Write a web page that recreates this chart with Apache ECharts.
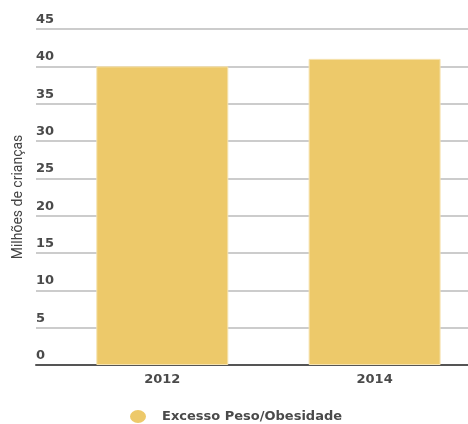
<!DOCTYPE html>
<html>
<head>
<meta charset="utf-8">
<script src="https://cdn.jsdelivr.net/npm/echarts@6/dist/echarts.min.js"></script>
<style>
  html, body { margin: 0; padding: 0; background: #fff; }
  #chart { width: 468px; height: 424px; }
</style>
</head>
<body>
<div id="chart"></div>
<script>
const years = [2012, 2014];
const values = [40, 41];
const seriesName = 'Excesso Peso/Obesidade';
const yTitle = 'Milhões de crianças';

const chart = echarts.init(document.getElementById('chart'));

const boldFont = 'DejaVu Sans';

let option = {
  animation: false,
  color: ['#EDC96A'],
  textStyle: { fontFamily: 'Roboto' },
  grid: {
    left: 36,
    right: 0,
    top: 29,
    bottom: 59
  },
  legend: {
    data: [seriesName],
    left: 125,
    top: 405,
    icon: 'path://M0,6a7.5,6 0 1,0 15,0a7.5,6 0 1,0 -15,0',
    itemWidth: 16,
    itemHeight: 13,
    itemGap: 10,
    itemStyle: { borderWidth: 0 },
    textStyle: {
      color: '#4a4a4a',
      fontFamily: boldFont,
      fontSize: 13,
      fontWeight: 'bold',
      padding: [0, 0, 0, 11]
    }
  },
  xAxis: {
    type: 'value',
    min: 2010.81,
    max: 2014.88,
    splitLine: { show: false },
    axisTick: { show: false },
    axisLine: {
      show: true,
      lineStyle: { color: '#555', width: 2 }
    },
    axisLabel: {
      customValues: years,
      color: '#4a4a4a',
      fontFamily: boldFont,
      fontSize: 13,
      fontWeight: 'bold',
      margin: 8,
      formatter: (v) => String(v)
    }
  },
  yAxis: {
    type: 'value',
    min: 0,
    max: 45,
    interval: 5,
    name: yTitle,
    nameLocation: 'middle',
    nameRotate: 90,
    nameGap: 11,
    nameTextStyle: {
      color: '#444',
      fontFamily: 'Roboto',
      fontSize: 14
    },
    axisLine: { show: false },
    axisTick: { show: false },
    axisLabel: {
      inside: true,
      margin: 0,
      align: 'left',
      verticalAlign: 'bottom',
      padding: [0, 0, 3, 0],
      color: '#4a4a4a',
      fontFamily: boldFont,
      fontSize: 13,
      fontWeight: 'bold'
    },
    splitLine: {
      lineStyle: { color: '#bbb', width: 1.5 }
    }
  },
  series: [
    {
      name: seriesName,
      type: 'bar',
      barWidth: 132,
      data: years.map((y, i) => [y, values[i]]),
      itemStyle: {
        borderColor: '#F6E3B0',
        borderWidth: 1
      }
    }
  ]
};

chart.setOption(option);
</script>
</body>
</html>
